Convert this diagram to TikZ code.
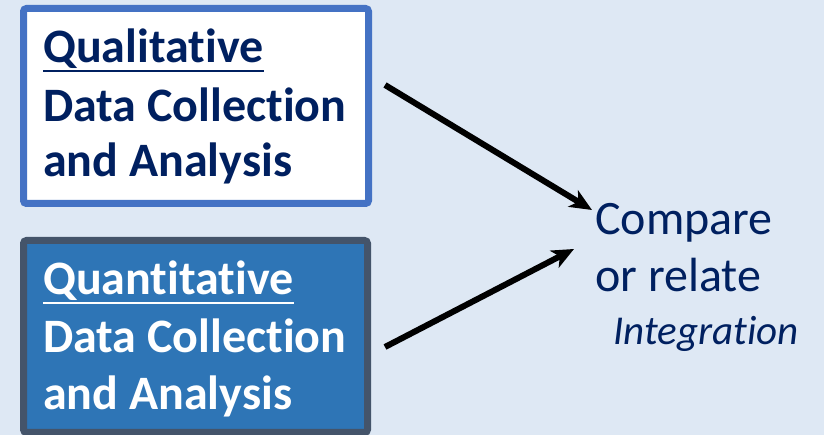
\documentclass[tikz,border=0pt]{standalone}
\usepackage{fontspec}
\setmainfont{Carlito}
\usetikzlibrary{arrows.meta}
\definecolor{bgblue}{HTML}{DEE8F4}
\definecolor{qualborder}{HTML}{4472C4}
\definecolor{quantfill}{HTML}{2E75B6}
\definecolor{quantborder}{HTML}{44546A}
\definecolor{navy}{HTML}{002060}
% keep "t" and "i" as separate glyphs
\newcommand\tsep{t\kern0pt i}
\tikzset{
  boxline/.style={line width=7pt, rounded corners=3pt},
  bigtext/.style={anchor=base west, inner sep=0pt, font=\fontsize{48}{57}\selectfont\bfseries},
  plaintext/.style={anchor=base west, inner sep=0pt, text=navy, font=\fontsize{48}{57}\selectfont},
  flow/.style={line width=6pt, -{Stealth[length=22pt,width=19pt,inset=6pt]}},
}
\begin{document}
\begin{tikzpicture}[x=1pt,y=1pt]
\useasboundingbox (0,0) rectangle (824,435);
\fill[bgblue] (0,0) rectangle (824,435);

% qualitative strand
\draw[boxline, qualborder, fill=white] (23.5,426.5) rectangle (368.5,231.5);
\node[bigtext, text=navy] (ql1) at (43,372) {Qualita\tsep ve};
\node[bigtext, text=navy] (ql2) at (43,313) {Data Collec\tsep on};
\node[bigtext, text=navy] (ql3) at (43,258) {and Analysis};
\draw[navy, line width=2.6pt] ([yshift=-8pt]ql1.base west) -- ([yshift=-8pt]ql1.base east);

% quantitative strand
\draw[boxline, quantborder, fill=quantfill] (23.5,194.5) rectangle (367.5,2.5);
\node[bigtext, text=white] (qn1) at (43,140) {Quan\tsep ta\tsep ve};
\node[bigtext, text=white] (qn2) at (43,82) {Data Collec\tsep on};
\node[bigtext, text=white] (qn3) at (43,25) {and Analysis};
\draw[white, line width=2.6pt] ([yshift=-8pt]qn1.base west) -- ([yshift=-8pt]qn1.base east);

% integration
\node[plaintext] (cmp) at (595,200) {Compare};
\node[plaintext] (rel) at (595,143) {or relate};
\node[anchor=base west, inner sep=0pt, text=navy, font=\fontsize{41}{48}\selectfont\itshape] (intg) at (613,90) {Integra\tsep on};

\coordinate (s1) at (385,350);
\coordinate (e1) at (592,225);
\coordinate (s2) at (385,88);
\coordinate (e2) at (574,186);
\draw[flow] (s1) -- (e1);
\draw[flow] (s2) -- (e2);
\end{tikzpicture}
\end{document}
